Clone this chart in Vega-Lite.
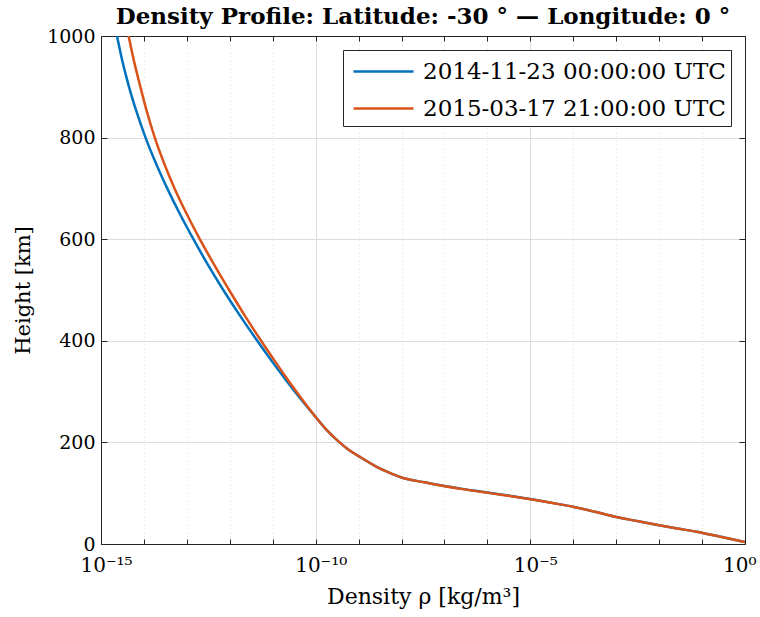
{
  "$schema": "https://vega.github.io/schema/vega-lite/v6.json",
  "width": 644,
  "height": 508,
  "autosize": {"type": "none"},
  "padding": {"left": 101, "top": 36, "right": 15, "bottom": 73},
  "background": "white",
  "config": {
    "font": "DejaVu Serif",
    "view": {"stroke": null},
    "axis": {"labelFont": "DejaVu Serif", "titleFont": "DejaVu Serif", "labelColor": "#000000", "titleColor": "#000000", "titleFontWeight": "normal", "domainColor": "#262626", "tickColor": "#262626", "gridColor": "#dcdcdc", "gridWidth": 1}
  },
  "title": {"text": "Density Profile: Latitude: -30 ° — Longitude: 0 °", "font": "DejaVu Serif", "fontSize": 23, "fontWeight": "bold", "color": "#000000", "anchor": "middle", "offset": -2},
  "data": {"values": [
    {"series": "2014-11-23 00:00:00 UTC", "h": 1000, "rho": 2.36e-15},
    {"series": "2014-11-23 00:00:00 UTC", "h": 950, "rho": 3.16e-15},
    {"series": "2014-11-23 00:00:00 UTC", "h": 900, "rho": 4.49e-15},
    {"series": "2014-11-23 00:00:00 UTC", "h": 850, "rho": 6.78e-15},
    {"series": "2014-11-23 00:00:00 UTC", "h": 800, "rho": 1.09e-14},
    {"series": "2014-11-23 00:00:00 UTC", "h": 750, "rho": 1.89e-14},
    {"series": "2014-11-23 00:00:00 UTC", "h": 700, "rho": 3.49e-14},
    {"series": "2014-11-23 00:00:00 UTC", "h": 650, "rho": 6.84e-14},
    {"series": "2014-11-23 00:00:00 UTC", "h": 600, "rho": 1.42e-13},
    {"series": "2014-11-23 00:00:00 UTC", "h": 550, "rho": 3.08e-13},
    {"series": "2014-11-23 00:00:00 UTC", "h": 500, "rho": 7.06e-13},
    {"series": "2014-11-23 00:00:00 UTC", "h": 450, "rho": 1.71e-12},
    {"series": "2014-11-23 00:00:00 UTC", "h": 400, "rho": 4.36e-12},
    {"series": "2014-11-23 00:00:00 UTC", "h": 360, "rho": 9.51e-12},
    {"series": "2014-11-23 00:00:00 UTC", "h": 323, "rho": 2.02e-11},
    {"series": "2014-11-23 00:00:00 UTC", "h": 285, "rho": 4.54e-11},
    {"series": "2014-11-23 00:00:00 UTC", "h": 250, "rho": 1.0e-10},
    {"series": "2014-11-23 00:00:00 UTC", "h": 224, "rho": 1.82e-10},
    {"series": "2014-11-23 00:00:00 UTC", "h": 202, "rho": 3.39e-10},
    {"series": "2014-11-23 00:00:00 UTC", "h": 186, "rho": 5.75e-10},
    {"series": "2014-11-23 00:00:00 UTC", "h": 173, "rho": 1.0e-9},
    {"series": "2014-11-23 00:00:00 UTC", "h": 152, "rho": 2.63e-9},
    {"series": "2014-11-23 00:00:00 UTC", "h": 141, "rho": 5.01e-9},
    {"series": "2014-11-23 00:00:00 UTC", "h": 131, "rho": 1.0e-8},
    {"series": "2014-11-23 00:00:00 UTC", "h": 121.4, "rho": 3.47e-8},
    {"series": "2014-11-23 00:00:00 UTC", "h": 114.2, "rho": 1.0e-7},
    {"series": "2014-11-23 00:00:00 UTC", "h": 108, "rho": 2.82e-7},
    {"series": "2014-11-23 00:00:00 UTC", "h": 102.4, "rho": 8.32e-7},
    {"series": "2014-11-23 00:00:00 UTC", "h": 97, "rho": 2.24e-6},
    {"series": "2014-11-23 00:00:00 UTC", "h": 92.5, "rho": 5.01e-6},
    {"series": "2014-11-23 00:00:00 UTC", "h": 88, "rho": 1.07e-5},
    {"series": "2014-11-23 00:00:00 UTC", "h": 80.5, "rho": 3.39e-5},
    {"series": "2014-11-23 00:00:00 UTC", "h": 73.4, "rho": 9.77e-5},
    {"series": "2014-11-23 00:00:00 UTC", "h": 63.5, "rho": 3.16e-4},
    {"series": "2014-11-23 00:00:00 UTC", "h": 53.7, "rho": 9.33e-4},
    {"series": "2014-11-23 00:00:00 UTC", "h": 45.5, "rho": 2.95e-3},
    {"series": "2014-11-23 00:00:00 UTC", "h": 37.4, "rho": 9.33e-3},
    {"series": "2014-11-23 00:00:00 UTC", "h": 30.5, "rho": 2.63e-2},
    {"series": "2014-11-23 00:00:00 UTC", "h": 24.2, "rho": 7.41e-2},
    {"series": "2014-11-23 00:00:00 UTC", "h": 14.5, "rho": 0.263},
    {"series": "2014-11-23 00:00:00 UTC", "h": 5, "rho": 0.871},
    {"series": "2014-11-23 00:00:00 UTC", "h": 0, "rho": 1.58},
    {"series": "2015-03-17 21:00:00 UTC", "h": 1000, "rho": 4.39e-15},
    {"series": "2015-03-17 21:00:00 UTC", "h": 950, "rho": 5.89e-15},
    {"series": "2015-03-17 21:00:00 UTC", "h": 900, "rho": 8.26e-15},
    {"series": "2015-03-17 21:00:00 UTC", "h": 850, "rho": 1.18e-14},
    {"series": "2015-03-17 21:00:00 UTC", "h": 800, "rho": 1.79e-14},
    {"series": "2015-03-17 21:00:00 UTC", "h": 750, "rho": 2.93e-14},
    {"series": "2015-03-17 21:00:00 UTC", "h": 700, "rho": 5.16e-14},
    {"series": "2015-03-17 21:00:00 UTC", "h": 650, "rho": 9.89e-14},
    {"series": "2015-03-17 21:00:00 UTC", "h": 600, "rho": 2.0e-13},
    {"series": "2015-03-17 21:00:00 UTC", "h": 550, "rho": 4.31e-13},
    {"series": "2015-03-17 21:00:00 UTC", "h": 500, "rho": 9.64e-13},
    {"series": "2015-03-17 21:00:00 UTC", "h": 450, "rho": 2.22e-12},
    {"series": "2015-03-17 21:00:00 UTC", "h": 400, "rho": 5.36e-12},
    {"series": "2015-03-17 21:00:00 UTC", "h": 360, "rho": 1.12e-11},
    {"series": "2015-03-17 21:00:00 UTC", "h": 323, "rho": 2.26e-11},
    {"series": "2015-03-17 21:00:00 UTC", "h": 285, "rho": 4.81e-11},
    {"series": "2015-03-17 21:00:00 UTC", "h": 250, "rho": 1.0e-10},
    {"series": "2015-03-17 21:00:00 UTC", "h": 224, "rho": 1.82e-10},
    {"series": "2015-03-17 21:00:00 UTC", "h": 202, "rho": 3.39e-10},
    {"series": "2015-03-17 21:00:00 UTC", "h": 186, "rho": 5.75e-10},
    {"series": "2015-03-17 21:00:00 UTC", "h": 173, "rho": 1.0e-9},
    {"series": "2015-03-17 21:00:00 UTC", "h": 152, "rho": 2.63e-9},
    {"series": "2015-03-17 21:00:00 UTC", "h": 141, "rho": 5.01e-9},
    {"series": "2015-03-17 21:00:00 UTC", "h": 131, "rho": 1.0e-8},
    {"series": "2015-03-17 21:00:00 UTC", "h": 121.4, "rho": 3.39e-8},
    {"series": "2015-03-17 21:00:00 UTC", "h": 114.2, "rho": 9.55e-8},
    {"series": "2015-03-17 21:00:00 UTC", "h": 108, "rho": 2.63e-7},
    {"series": "2015-03-17 21:00:00 UTC", "h": 102.4, "rho": 7.59e-7},
    {"series": "2015-03-17 21:00:00 UTC", "h": 97, "rho": 2.04e-6},
    {"series": "2015-03-17 21:00:00 UTC", "h": 92.5, "rho": 4.68e-6},
    {"series": "2015-03-17 21:00:00 UTC", "h": 88, "rho": 1.02e-5},
    {"series": "2015-03-17 21:00:00 UTC", "h": 80.5, "rho": 3.31e-5},
    {"series": "2015-03-17 21:00:00 UTC", "h": 73.4, "rho": 9.77e-5},
    {"series": "2015-03-17 21:00:00 UTC", "h": 63.5, "rho": 3.16e-4},
    {"series": "2015-03-17 21:00:00 UTC", "h": 53.7, "rho": 9.33e-4},
    {"series": "2015-03-17 21:00:00 UTC", "h": 45.5, "rho": 2.95e-3},
    {"series": "2015-03-17 21:00:00 UTC", "h": 37.4, "rho": 9.33e-3},
    {"series": "2015-03-17 21:00:00 UTC", "h": 30.5, "rho": 2.63e-2},
    {"series": "2015-03-17 21:00:00 UTC", "h": 24.2, "rho": 7.41e-2},
    {"series": "2015-03-17 21:00:00 UTC", "h": 14.5, "rho": 0.263},
    {"series": "2015-03-17 21:00:00 UTC", "h": 5, "rho": 0.871},
    {"series": "2015-03-17 21:00:00 UTC", "h": 0, "rho": 1.58}
  ]},
  "resolve": {"axis": {"x": "independent", "y": "independent"}},
  "layer": [
    {
      "mark": {"type": "line", "strokeWidth": 0, "opacity": 0},
      "encoding": {
        "x": {"field": "rho", "type": "quantitative", "scale": {"type": "log", "domain": [1e-15, 1], "nice": false},
          "axis": {"orient": "top", "values": [1e-15,1e-14,1e-13,1e-12,1e-11,1e-10,1e-9,1e-8,1e-7,1e-6,1e-5,1e-4,1e-3,1e-2,1e-1,1], "labels": false, "title": null, "grid": false, "ticks": true, "tickSize": -5, "domain": true, "domainWidth": 1}},
        "y": {"field": "h", "type": "quantitative", "scale": {"domain": [0, 1000], "nice": false, "zero": false},
          "axis": {"orient": "right", "values": [0,200,400,600,800,1000], "labels": false, "title": null, "grid": false, "ticks": true, "tickSize": -6, "domain": true, "domainWidth": 1}},
        "detail": {"field": "series"}
      }
    },
    {
      "mark": {"type": "line", "strokeWidth": 2.5, "interpolate": "monotone", "clip": true},
      "encoding": {
        "x": {"field": "rho", "type": "quantitative", "scale": {"type": "log", "domain": [1e-15, 1], "nice": false},
          "axis": {"orient": "bottom", "values": [1e-15,1e-14,1e-13,1e-12,1e-11,1e-10,1e-9,1e-8,1e-7,1e-6,1e-5,1e-4,1e-3,1e-2,1e-1,1],
            "labelExpr": "datum.value == 1e-15 ? '10⁻¹⁵' : datum.value == 1e-10 ? '10⁻¹⁰' : datum.value == 1e-5 ? '10⁻⁵' : datum.value == 1 ? '10⁰' : ''",
            "labelFontSize": 20, "labelPadding": 16, "labelFlush": false, "labelOverlap": false,
            "labelAlign": {"condition": {"test": "datum.value == 1", "value": "right"}, "value": "center"},
            "labelOffset": {"condition": {"test": "datum.value == 1", "value": 11}, "value": 5},
            "title": "Density ρ [kg/m³]", "titleFontSize": 22, "titlePadding": 11,
            "grid": true, "gridDash": {"condition": {"test": "round(log(datum.value)/LN10) % 5 == 0", "value": []}, "value": [1, 3]},
            "ticks": true, "tickSize": -5, "domain": true, "domainWidth": 1}},
        "y": {"field": "h", "type": "quantitative", "scale": {"domain": [0, 1000], "nice": false, "zero": false},
          "axis": {"orient": "left", "values": [0,200,400,600,800,1000], "format": "d", "labelFontSize": 19, "labelPadding": 12, "labelFlush": false,
            "title": "Height [km]", "titleFontSize": 21, "titlePadding": 13,
            "grid": true, "ticks": true, "tickSize": -6, "domain": true, "domainWidth": 1}},
        "color": {"field": "series", "type": "nominal", "scale": {"range": ["#0072BD", "#D95319"]},
          "legend": {"title": null, "orient": "top-right", "offset": 14, "fillColor": "white", "strokeColor": "#262626", "padding": 5,
            "labelFont": "DejaVu Serif", "labelFontSize": 23, "labelColor": "#000000", "symbolType": "M-2,0H2", "symbolSize": 900, "symbolStrokeWidth": 2.5, "symbolOffset": 19, "rowPadding": 8, "labelOffset": 23, "labelLimit": 0}}
      }
    }
  ]
}
